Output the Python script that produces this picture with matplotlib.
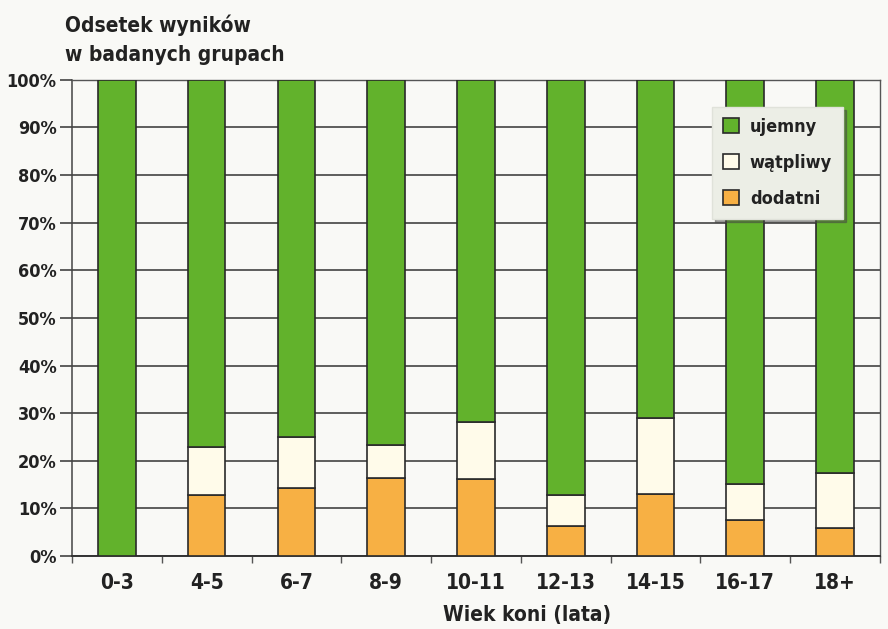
import matplotlib
matplotlib.use("Agg")
import matplotlib.pyplot as plt
import numpy as np

categories = ["0-3", "4-5", "6-7", "8-9", "10-11", "12-13", "14-15", "16-17", "18+"]
dodatni = [0.0, 12.8, 14.3, 16.3, 16.2, 6.3, 13.0, 7.5, 5.8]
watpliwy = [0.0, 10.2, 10.7, 7.0, 12.0, 6.5, 15.9, 7.7, 11.7]
ujemny = [100 - d - w for d, w in zip(dodatni, watpliwy)]
yticks = [0, 10, 20, 30, 40, 50, 60, 70, 80, 90, 100]
ytick_labels = [f"{v}%" for v in yticks]

plt.rcParams["font.family"] = ["DejaVu Sans"]
plt.rcParams["font.stretch"] = "condensed"

c_green = "#62b22c"
c_white = "#fffbea"
c_orange = "#f7b044"
bg = "#f9f9f6"

fig = plt.figure(figsize=(8.88, 6.29), dpi=100, facecolor=bg)
ax = fig.add_axes([0.081, 0.116, 0.910, 0.757])
ax.set_facecolor(bg)

x = np.arange(len(categories))
w = 0.42
bottoms2 = [d + v for d, v in zip(dodatni, watpliwy)]
b1 = ax.bar(x, dodatni, w, color=c_orange, edgecolor="#2a2a2a", linewidth=1.2, zorder=3, label="dodatni")
b2 = ax.bar(x, watpliwy, w, bottom=dodatni, color=c_white, edgecolor="#2a2a2a", linewidth=1.2, zorder=3, label="wątpliwy")
b3 = ax.bar(x, ujemny, w, bottom=bottoms2, color=c_green, edgecolor="#2a2a2a", linewidth=1.2, zorder=3, label="ujemny")

ax.set_xlim(-0.5, len(categories) - 0.5)
ax.set_ylim(0, 100)
ax.set_yticks(yticks)
ax.set_yticklabels(ytick_labels, fontsize=13, fontweight="bold", color="#222222", fontstretch="condensed")
ax.yaxis.grid(True, color="#333333", linewidth=1.1, zorder=0)
ax.set_axisbelow(True)
ax.tick_params(axis="y", length=9, width=1.1, color="#333333", pad=2)

ax.set_xticks(x)
ax.set_xticklabels(categories, fontsize=15, fontweight="bold", color="#222222", fontstretch="condensed")
ax.tick_params(axis="x", length=0, pad=12)
ax.set_xticks(np.arange(len(categories) + 1) - 0.5, minor=True)
ax.tick_params(axis="x", which="minor", length=5, width=1.0, color="#555555", direction="out")

for s in ["top", "right"]:
    ax.spines[s].set_color("#555555")
    ax.spines[s].set_linewidth(1.0)
ax.spines["left"].set_color("#444444")
ax.spines["left"].set_linewidth(1.1)
ax.spines["bottom"].set_color("#333333")
ax.spines["bottom"].set_linewidth(1.4)

leg = ax.legend(handles=[b3, b2, b1], labels=["ujemny", "wątpliwy", "dodatni"],
                loc="upper left", bbox_to_anchor=(0.792, 0.943), borderaxespad=0,
                frameon=True, fancybox=False, shadow=True,
                prop={"size": 13, "weight": "bold", "stretch": "condensed"},
                handlelength=0.9, handleheight=0.9, labelspacing=1.0,
                borderpad=0.6, handletextpad=0.6)
leg.get_frame().set_facecolor("#eceee6")
leg.get_frame().set_edgecolor("#e0e2da")
leg.set_zorder(5)
for t in leg.get_texts():
    t.set_color("#222222")

tkw = dict(fontsize=15, fontweight="bold", color="#222222", va="center", fontstretch="condensed")
fig.text(0.073, 0.960, "Odsetek wyników", ha="left", **tkw)
fig.text(0.073, 0.913, "w badanych grupach", ha="left", **tkw)
fig.text(0.593, 0.022, "Wiek koni (lata)", ha="center", **tkw)

fig.savefig("out.png", dpi=100, facecolor=bg)
